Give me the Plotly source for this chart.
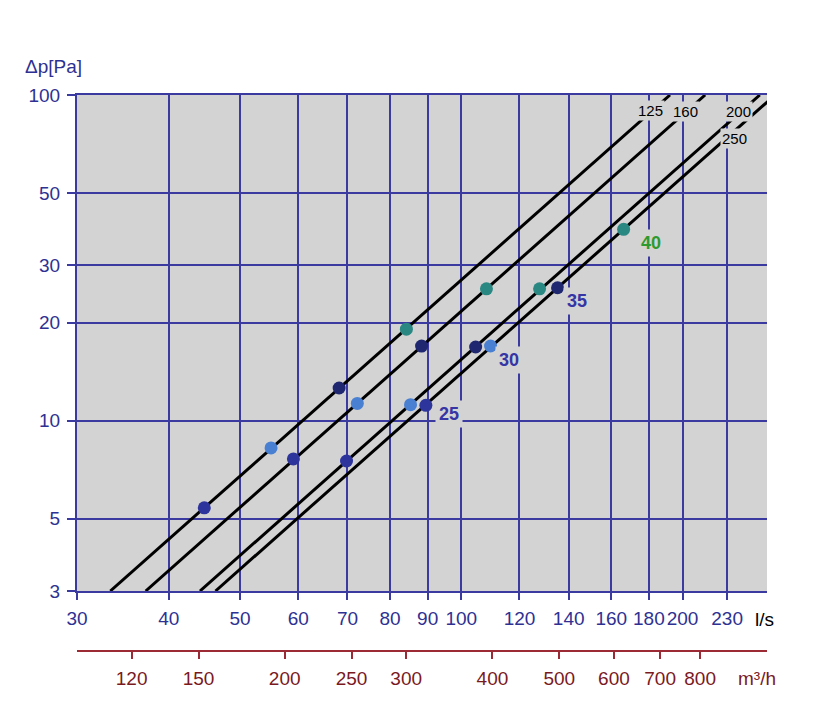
import math
import plotly.graph_objects as go

# ---- data ----
# duct lines (diameter labels) : end points (l/s, Pa)
line_names = ["125", "160", "200", "250"]
line_q = [[33.3, 192.3], [37.2, 214.7], [44.1, 254.8], [46.3, 267.3]]
line_dp = [[3, 100], [3, 100], [3, 100], [3, 100]]

# noise level points (dB) per line 125/160/200/250
noise_levels = ["25", "30", "35", "40"]
pts_q = {
    "25": [44.7, 59.1, 69.8, 89.5],
    "30": [55.1, 72.2, 85.3, 109.6],
    "35": [68.2, 88.3, 104.6, 135.2],
    "40": [84.2, 108.2, 127.8, 166.3],
}
pts_dp = {
    "25": [5.40, 7.63, 7.52, 11.15],
    "30": [8.25, 11.3, 11.2, 16.96],
    "35": [12.6, 16.95, 16.84, 25.6],
    "40": [19.1, 25.4, 25.4, 38.7],
}
noise_colors = {"25": "#2d349c", "30": "#4a80d2", "35": "#1f2770", "40": "#2a8883"}

# label positions (l/s, Pa)
line_label_q = [181.1, 202.1, 238.6, 235.2]
line_label_dp = [89.9, 89.3, 89.3, 73.3]
noise_label_q = [96.3, 116.1, 143.9, 181.4]
noise_label_dp = [10.5, 15.4, 23.3, 35.1]
noise_label_colors = ["#3535a5", "#3535a5", "#3535a5", "#2e9a2e"]

x_ticks = [30, 40, 50, 60, 70, 80, 90, 100, 120, 140, 160, 180, 200, 230]
y_ticks = [3, 5, 10, 20, 30, 50, 100]
m3h_ticks = [120, 150, 200, 250, 300, 400, 500, 600, 700, 800]

BLUE = "#2e3192"
GRID = "#3a3aa0"
RED = "#9b2a35"
REDTXT = "#7a1a1f"
BG = "#d3d3d3"
FONT = "Liberation Sans, Arial, sans-serif"

# figure geometry (page body has an 8px default margin)
OFF = 8
W, H = 836, 723
L, R, T, B = 69, 77, 87, 80
pw, ph = W - L - R, H - T - B

fig = go.Figure()

for name, q, dp in zip(line_names, line_q, line_dp):
    fig.add_trace(go.Scatter(x=q, y=dp, mode="lines",
                             line=dict(color="black", width=3),
                             name=name, showlegend=False, hoverinfo="skip"))

for lvl in noise_levels:
    fig.add_trace(go.Scatter(x=pts_q[lvl], y=pts_dp[lvl], mode="markers",
                             marker=dict(color=noise_colors[lvl], size=13),
                             name=lvl + " dB", showlegend=False))

# invisible trace for secondary (m3/h) axis
fig.add_trace(go.Scatter(x=[100, 1000], y=[3, 3], xaxis="x2", mode="markers",
                         marker=dict(opacity=0), showlegend=False, hoverinfo="skip"))

annotations = []
for name, q, dp in zip(line_names, line_label_q, line_label_dp):
    annotations.append(dict(x=math.log10(q), y=math.log10(dp), xref="x", yref="y",
                            text=name, showarrow=False, bgcolor=BG, borderpad=1,
                            xanchor="center", yanchor="middle",
                            font=dict(family=FONT, size=15, color="black")))
for name, q, dp, c in zip(noise_levels, noise_label_q, noise_label_dp, noise_label_colors):
    annotations.append(dict(x=math.log10(q), y=math.log10(dp), xref="x", yref="y",
                            text="<b>%s</b>" % name, showarrow=False, bgcolor=BG,
                            borderpad=3, xanchor="center", yanchor="middle",
                            font=dict(family=FONT, size=18, color=c)))


def px_note(xw, yw, text, color):
    xf = xw - OFF
    yf = yw - OFF
    return dict(x=(xf - L) / pw, y=(H - B - yf) / ph, xref="paper", yref="paper",
                text=text, showarrow=False, xanchor="center", yanchor="middle",
                font=dict(family=FONT, size=19, color=color))


annotations += [
    px_note(764, 619, "l/s", "black"),
    px_note(757, 678, "m³/h", REDTXT),
    px_note(53, 66, "Δp[Pa]", BLUE),
]

fig.update_layout(
    width=W, height=H,
    margin=dict(l=L, r=R, t=T, b=B),
    paper_bgcolor="white",
    plot_bgcolor=BG,
    showlegend=False,
    font=dict(family=FONT),
    annotations=annotations,
    xaxis=dict(type="log", range=[math.log10(30), math.log10(260.6)],
               tickvals=x_ticks, ticktext=[str(v) for v in x_ticks],
               tickangle=0,
               showgrid=True, gridcolor=GRID, gridwidth=1.6,
               showline=True, linecolor=GRID, linewidth=2, mirror=True,
               ticks="outside", ticklen=7, tickwidth=2, tickcolor=GRID,
               ticklabelstandoff=2,
               tickfont=dict(family=FONT, size=19, color=BLUE),
               zeroline=False, anchor="y"),
    yaxis=dict(type="log", range=[math.log10(3), 2], domain=[(651 - 591) / 556, 1],
               tickvals=y_ticks, ticktext=[str(v) for v in y_ticks],
               showgrid=True, gridcolor=GRID, gridwidth=1.6,
               showline=True, linecolor=GRID, linewidth=2,
               ticks="outside", ticklen=8, tickwidth=2, tickcolor=GRID,
               ticklabelstandoff=3,
               tickfont=dict(family=FONT, size=19, color=BLUE),
               zeroline=False),
    xaxis2=dict(type="log", range=[2, 3], overlaying="x", anchor="free", position=0,
                side="bottom", tickvals=m3h_ticks, ticktext=[str(v) for v in m3h_ticks],
                tickangle=0,
                showgrid=False, showline=True, linecolor=RED, linewidth=2,
                ticks="outside", ticklen=7, tickwidth=2, tickcolor=RED,
                ticklabelstandoff=3,
                tickfont=dict(family=FONT, size=19, color=REDTXT), zeroline=False),
)

fig.write_html("out.html")
